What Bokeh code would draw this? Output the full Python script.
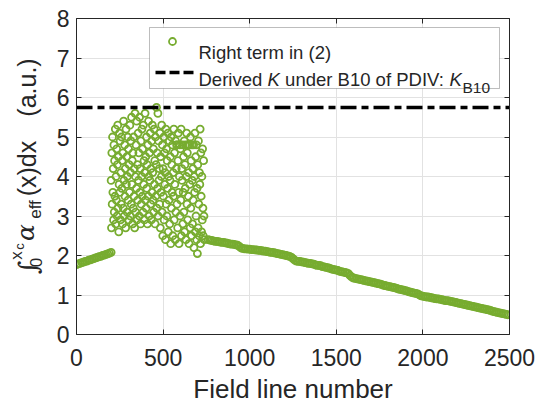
import math
from bokeh.plotting import figure
from bokeh.layouts import row
from bokeh.models import Label, BoxAnnotation, LinearAxis, FixedTicker, Range1d
from bokeh.embed import file_html
from bokeh.resources import INLINE

# ---------------- data ----------------
x_ticks = [0, 500, 1000, 1500, 2000, 2500]
y_ticks = [0, 1, 2, 3, 4, 5, 6, 7, 8]

rise_x = list(range(0, 201, 10))
rise_y = [1.77, 1.79, 1.80, 1.82, 1.83, 1.85, 1.86, 1.88, 1.89, 1.91, 1.92, 1.94, 1.95, 1.97, 1.98,
          2.00, 2.01, 2.03, 2.04, 2.06, 2.08]

mid_x = list(range(200, 740, 2))
mid_y = [
    3.9, 2.7, 4.6, 3.3, 5.0, 3.6, 4.2, 2.9, 4.8, 3.1,
    4.4, 3.5, 5.2, 2.8, 4.0, 3.4, 4.7, 3.0, 4.3, 5.3,
    3.2, 4.5, 2.6, 3.8, 5.1, 3.6, 4.9, 2.9, 4.1, 3.3,
    5.0, 3.7, 4.4, 2.8, 4.6, 3.2, 5.4, 3.9, 3.0, 4.8,
    3.5, 4.2, 2.7, 5.2, 3.8, 4.5, 3.1, 4.0, 5.0, 3.4,
    4.7, 2.9, 4.3, 3.6, 5.3, 3.0, 4.1, 4.9, 3.3, 5.5,
    3.8, 4.4, 2.8, 4.6, 3.2, 5.0, 3.5, 4.2, 2.7, 5.6,
    4.0, 3.1, 4.8, 3.7, 5.4, 2.9, 4.3, 3.4, 5.1, 3.9,
    4.6, 3.0, 5.5, 3.6, 4.2, 2.8, 4.9, 3.3, 4.0, 5.2,
    3.5, 4.7, 3.1, 5.3, 3.8, 4.4, 2.9, 4.1, 5.6, 3.4,
    4.5, 3.2, 5.0, 3.7, 4.3, 2.8, 4.8, 3.5, 5.4, 4.0,
    3.0, 4.6, 3.9, 5.1, 3.3, 4.2, 2.9, 4.9, 3.6, 5.3,
    4.1, 3.4, 4.7, 3.1, 5.2, 3.8, 4.4, 2.8, 5.0, 3.5,
    4.3, 5.75, 3.2, 4.6, 3.7, 5.6, 3.0, 4.9, 3.9, 4.2,
    3.3, 5.1, 2.7, 4.5, 3.6, 4.0, 5.3, 3.1, 4.8, 2.5,
    4.2, 3.5, 5.0, 2.9, 4.6, 3.8, 4.1, 2.4, 5.2, 3.3,
    4.7, 3.0, 4.4, 3.7, 5.1, 2.6, 4.0, 3.4, 4.9, 2.8,
    3.9, 4.5, 2.3, 5.0, 3.2, 4.3, 3.6, 4.8, 2.5, 4.1,
    3.5, 5.2, 2.9, 4.6, 3.8, 2.4, 4.9, 3.1, 4.2, 4.8,
    3.3, 4.8, 2.7, 4.4, 5.1, 3.6, 2.3, 4.0, 4.8, 3.0,
    4.7, 3.4, 5.2, 2.5, 4.2, 3.9, 4.8, 2.8, 3.6, 4.5,
    3.1, 4.9, 2.6, 4.3, 3.7, 4.8, 2.4, 4.0, 5.1, 3.3,
    4.6, 2.9, 4.8, 3.5, 4.1, 2.3, 4.8, 3.8, 2.7, 5.0,
    3.2, 4.4, 2.5, 4.8, 3.9, 2.8, 4.2, 3.4, 4.8, 2.2,
    4.0, 3.6, 5.1, 2.6, 4.5, 3.0, 4.8, 2.4, 3.7, 2.05,
    4.3, 2.7, 4.9, 3.3, 2.5, 4.1, 3.8, 5.2, 2.3, 4.6,
    3.5, 2.6, 4.0, 2.9, 4.7, 3.2, 2.5, 4.4, 3.0, 2.4,
]

fall_x = list(range(760, 2500, 10))
fall_y = [
    2.40, 2.39, 2.38, 2.37, 2.36, 2.36, 2.35, 2.34, 2.33, 2.33, 2.32, 2.31, 2.30, 2.29, 2.29,
    2.28, 2.27, 2.26, 2.23,
    2.19, 2.18, 2.17, 2.17, 2.16, 2.16, 2.15, 2.15, 2.14, 2.14,
    2.13, 2.13, 2.12, 2.11, 2.11, 2.10, 2.09, 2.08, 2.08, 2.07,
    2.06, 2.05, 2.04, 2.03, 2.02, 2.01, 2.00, 1.99, 1.98, 1.96,
    1.92, 1.88, 1.86, 1.85, 1.85, 1.84, 1.83, 1.82, 1.81, 1.80,
    1.80, 1.79, 1.78, 1.76, 1.75, 1.75, 1.74, 1.72, 1.71, 1.70,
    1.69, 1.68, 1.66, 1.65, 1.64, 1.63, 1.62, 1.60, 1.59, 1.58,
    1.57, 1.56, 1.54,
    1.49, 1.45, 1.43, 1.42, 1.41, 1.40, 1.39, 1.38, 1.37, 1.36,
    1.35, 1.34, 1.33, 1.32, 1.31, 1.30, 1.29, 1.28, 1.27, 1.25,
    1.24, 1.23, 1.22, 1.21, 1.20, 1.19, 1.18, 1.17, 1.15, 1.14,
    1.13, 1.12, 1.11, 1.10, 1.08, 1.07, 1.06, 1.05, 1.04, 1.03,
    1.00, 0.98, 0.97, 0.96, 0.95, 0.95, 0.94, 0.93, 0.92, 0.91,
    0.90, 0.90, 0.89, 0.88, 0.87, 0.86, 0.86, 0.85, 0.84, 0.83,
    0.82, 0.81, 0.80, 0.79, 0.78, 0.77, 0.76, 0.75, 0.74, 0.73,
    0.72, 0.71, 0.70, 0.69, 0.68, 0.67, 0.66, 0.65, 0.64, 0.63,
    0.62, 0.61, 0.59, 0.58, 0.57, 0.56, 0.55, 0.54, 0.53, 0.52,
    0.51, 0.50,
]

ref_x = [0, 2500]
ref_k = [5.75, 5.75]

GREEN = "#77AC30"
DARK = "#262626"
FONT = "Liberation Sans"

# ---------------- layout constants (page pixels) ----------------
W, H = 538, 407
LW = 45                      # width of the y-label strip
L, R, T, B = 76, 29, 18, 73  # frame margins on the page
FW, FH = W - L - R, H - T - B


def sx(px):
    return (px - L) * 2500.0 / FW


def sy(py):
    return (T + FH - py) * 8.0 / FH


# ---------------- y-label strip (frame aligned with main frame) ----------------
lf = figure(width=LW, height=H, x_range=Range1d(0, LW), y_range=Range1d(0, 8),
            x_axis_type=None, y_axis_type=None, output_backend="svg",
            toolbar_location=None, min_border_left=0, min_border_right=0,
            min_border_top=T, min_border_bottom=B, outline_line_color=None,
            background_fill_color="white", border_fill_color="white")
lf.xgrid.visible = False
lf.ygrid.visible = False


def ylab(txt, px, py, size, font=FONT, style="normal"):
    lf.add_layout(Label(x=px, y=sy(py), text=txt, text_font=font, text_font_size=size,
                        text_font_style=style, text_color=DARK, text_align="center",
                        text_baseline="middle", angle=math.pi / 2))


ylab("\u222b", 27, 267, "26px", font="DejaVu Serif")
ylab("0", 35, 262, "17px")
ylab("x", 16, 255, "17px")
ylab("c", 19, 246, "13px")
ylab("\u03b1", 25, 232, "25px", font="DejaVu Serif", style="italic")
ylab("eff", 35, 209, "17px")
ylab("(x)dx", 26, 168, "25px")
ylab("(a.u.)", 26, 87, "25px")

# ---------------- main figure ----------------
p = figure(width=W - LW, height=H, x_range=Range1d(0, 2500), y_range=Range1d(0, 8),
           output_backend="svg", toolbar_location=None,
           min_border_left=L - LW, min_border_right=R, min_border_top=T, min_border_bottom=B,
           background_fill_color="white", border_fill_color="white", outline_line_color=None)

for ax, ticks in ((p.xaxis, x_ticks), (p.yaxis, y_ticks)):
    ax.ticker = FixedTicker(ticks=ticks)
    ax.major_label_text_font = FONT
    ax.major_label_text_font_size = "23px"
    ax.major_label_text_color = DARK
    ax.axis_line_color = DARK
    ax.major_tick_line_color = DARK
    ax.major_tick_in = 5
    ax.major_tick_out = 0
    ax.minor_tick_line_color = None

p.xaxis.major_label_standoff = 14
p.yaxis.major_label_standoff = 7
p.xaxis.axis_label = "Field line number"
p.xaxis.axis_label_text_font = FONT
p.xaxis.axis_label_text_font_size = "26px"
p.xaxis.axis_label_text_font_style = "normal"
p.xaxis.axis_label_text_color = DARK
p.xaxis.axis_label_standoff = 5

p.xgrid.grid_line_color = "#e2e2e2"
p.ygrid.grid_line_color = "#e2e2e2"

for loc, ticks in (("right", y_ticks), ("above", x_ticks)):
    a = LinearAxis(ticker=FixedTicker(ticks=ticks), major_tick_in=5, major_tick_out=0,
                   major_label_text_color=None, major_label_text_font_size="1px",
                   major_label_standoff=0, minor_tick_line_color=None,
                   axis_line_color=DARK, major_tick_line_color=DARK)
    p.add_layout(a, loc)

# ---------------- data glyphs ----------------
for xs, ys in ((rise_x, rise_y), (mid_x, mid_y), (fall_x, fall_y)):
    p.scatter(xs, ys, marker="circle", size=7, fill_color=None,
              line_color=GREEN, line_width=1.8)

p.line(ref_x, ref_k, line_color="black", line_width=3.5, line_dash="16 5 7 5")

# ---------------- legend (manual) ----------------
p.add_layout(BoxAnnotation(left=sx(149), right=sx(499), top=sy(27), bottom=sy(88),
                           fill_color="white", fill_alpha=1, line_color=DARK,
                           line_width=1, level="underlay"))
p.scatter([sx(172)], [sy(41)], marker="circle", size=7, fill_color=None,
          line_color=GREEN, line_width=1.8)
p.line([sx(155), sx(193)], [sy(72), sy(72)], line_color="black", line_width=3.5,
       line_dash="10 4")

LS = "18.5px"


def lab(txt, px, py, size=LS, style="normal"):
    p.add_layout(Label(x=sx(px), y=sy(py), text=txt, text_font=FONT,
                       text_font_size=size, text_font_style=style, text_color=DARK,
                       text_align="left", text_baseline="alphabetic"))


lab("Right term in (2)", 198, 51.5)
lab("Derived", 198, 79)
lab("K", 267, 79, style="italic")
lab("under B10 of PDIV:", 284.6, 79)
lab("K", 449, 79, style="italic")
lab("B10", 462, 87, size="15.5px")

open("out.html", "w").write(file_html(row(lf, p), INLINE))
